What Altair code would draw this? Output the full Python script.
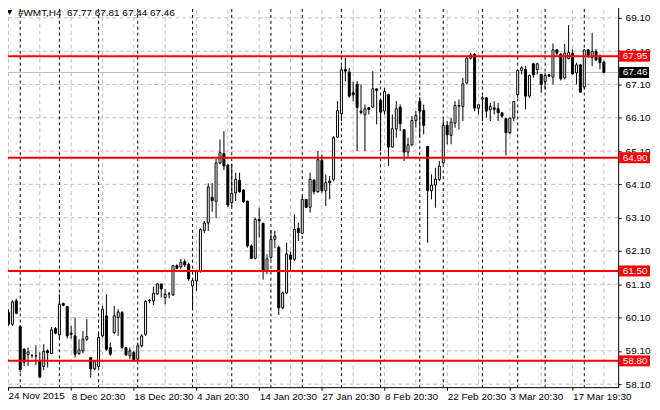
import altair as alt
import pandas as pd

# ---------------- data ----------------
opens = [
    60.25, 59.90, 60.60, 59.83, 59.15, 58.99, 58.96, 58.95, 58.80, 58.63,
    59.10, 59.02, 59.77, 59.58, 60.52, 60.43, 59.63, 59.55, 59.02, 59.10,
    59.45, 58.90, 58.56, 58.63, 59.55, 60.15, 59.20, 59.65, 60.10, 60.25,
    59.20, 58.95, 59.05, 58.85, 59.25, 59.60, 60.60, 60.60, 60.81, 61.11,
    60.70, 60.81, 60.78, 61.66, 61.62, 61.78, 61.70, 61.05, 61.20, 61.48,
    62.72, 62.94, 63.71, 63.59, 64.74, 65.02, 64.68, 63.55, 63.85, 64.22,
    63.93, 63.60, 62.25, 61.88, 63.05, 62.93, 61.49, 61.91, 62.45, 62.21,
    60.39, 60.84, 61.98, 61.85, 62.78, 62.63, 63.65, 63.41, 64.23, 63.88,
    64.82, 63.91, 64.20, 64.25, 65.52, 66.22, 67.55, 67.47, 66.85, 67.11,
    66.30, 66.19, 66.40, 66.42, 66.97, 66.62, 66.30, 66.80, 65.22, 65.77,
    66.42, 65.74, 65.07, 65.29, 66.02, 66.59, 66.32, 65.24, 63.91, 64.08,
    64.25, 64.75, 65.87, 65.57, 65.94, 66.45, 66.44, 67.15, 67.89, 68.00,
    66.39, 66.66, 66.70, 66.34, 66.40, 66.37, 66.25, 66.07, 65.65, 66.09,
    66.80, 67.52, 67.55, 66.75, 67.72, 67.55, 67.40, 67.19, 67.39, 67.32,
    68.14, 68.01, 67.30, 67.88, 68.04, 67.45, 67.69, 67.02, 68.14, 67.91,
    68.09, 67.96, 67.77,
]
highs = [
    60.35, 60.62, 60.67, 59.86, 59.18, 59.20, 59.01, 59.27, 59.05, 59.30,
    59.15, 59.82, 59.82, 60.80, 60.55, 60.45, 59.85, 60.10, 59.45, 59.70,
    60.05, 58.92, 58.80, 59.65, 60.45, 60.80, 59.35, 60.45, 60.35, 60.30,
    59.20, 59.20, 59.10, 59.35, 59.60, 60.62, 60.66, 61.03, 61.13, 61.11,
    60.95, 60.87, 61.68, 61.70, 61.86, 61.85, 61.75, 61.28, 61.50, 62.78,
    63.00, 64.13, 64.14, 64.86, 65.45, 65.70, 64.70, 64.72, 64.45, 64.45,
    63.95, 63.60, 62.30, 63.10, 63.40, 62.95, 62.00, 62.72, 62.70, 62.26,
    60.88, 62.35, 62.08, 63.20, 62.95, 63.75, 63.65, 64.45, 64.25, 65.10,
    65.00, 64.40, 64.35, 65.55, 66.60, 67.65, 67.90, 67.60, 67.18, 67.20,
    67.10, 66.50, 66.42, 67.50, 66.97, 66.65, 67.00, 66.80, 66.20, 66.60,
    66.50, 65.74, 65.50, 66.15, 66.30, 66.72, 66.50, 65.24, 64.40, 64.60,
    64.80, 66.05, 66.00, 66.10, 66.60, 66.65, 67.30, 67.95, 68.05, 68.05,
    66.50, 66.75, 66.72, 66.55, 66.60, 66.55, 66.25, 66.10, 66.10, 66.60,
    67.52, 67.65, 67.65, 67.40, 67.75, 67.75, 67.42, 67.45, 67.40, 68.33,
    68.16, 68.05, 68.32, 68.88, 68.15, 67.75, 67.72, 68.16, 68.16, 68.65,
    68.16, 68.00, 67.81,
]
lows = [
    59.85, 59.85, 60.20, 58.45, 58.64, 58.65, 58.88, 58.67, 58.28, 58.52,
    58.60, 59.00, 59.60, 59.45, 60.44, 59.47, 59.47, 58.90, 58.98, 59.03,
    59.40, 58.30, 58.52, 58.60, 59.50, 59.10, 58.95, 59.60, 59.55, 59.15,
    58.95, 58.85, 58.78, 58.80, 59.20, 59.55, 60.53, 60.48, 60.78, 60.70,
    60.50, 60.68, 60.75, 61.55, 61.55, 61.62, 61.20, 60.35, 60.90, 61.45,
    62.64, 62.70, 63.28, 63.08, 64.70, 64.53, 63.42, 63.43, 63.60, 63.85,
    63.55, 62.20, 61.85, 61.85, 62.50, 61.24, 61.40, 61.85, 62.18, 60.18,
    60.35, 60.80, 61.50, 61.80, 62.40, 62.60, 63.40, 63.25, 63.80, 63.85,
    63.85, 63.45, 63.65, 64.20, 65.50, 66.00, 67.20, 66.70, 66.60, 65.10,
    66.20, 65.10, 66.20, 66.40, 65.90, 65.10, 66.20, 64.65, 65.20, 65.50,
    65.70, 64.80, 64.90, 65.25, 65.80, 65.50, 65.60, 62.35, 63.65, 63.40,
    64.20, 64.70, 65.30, 65.30, 65.80, 65.75, 66.00, 67.10, 67.85, 66.30,
    66.20, 66.00, 66.10, 66.00, 66.20, 66.00, 66.10, 64.97, 65.60, 66.00,
    66.70, 67.40, 66.35, 66.70, 67.30, 67.40, 66.85, 66.95, 67.32, 67.10,
    67.98, 67.22, 67.25, 67.85, 67.40, 67.10, 66.85, 66.95, 67.90, 67.65,
    67.80, 67.55, 67.44,
]
closes = [
    59.90, 60.57, 60.23, 58.54, 58.76, 59.07, 58.96, 58.95, 58.31, 59.08,
    59.05, 59.73, 59.63, 60.50, 60.47, 59.55, 59.60, 59.00, 59.13, 59.45,
    59.53, 58.56, 58.78, 59.50, 60.35, 59.15, 59.00, 60.15, 60.27, 59.20,
    58.98, 59.10, 58.80, 59.25, 59.55, 60.58, 60.62, 60.83, 61.11, 60.96,
    60.80, 60.81, 61.66, 61.58, 61.76, 61.68, 61.26, 61.21, 61.48, 62.74,
    62.94, 64.02, 63.61, 64.74, 65.05, 64.65, 63.48, 63.83, 64.25, 63.88,
    63.58, 62.25, 61.88, 63.05, 63.00, 61.49, 61.86, 62.45, 62.55, 60.39,
    60.84, 62.01, 61.85, 62.75, 62.65, 63.65, 63.41, 64.25, 63.88, 64.84,
    63.91, 64.15, 64.15, 65.50, 66.32, 67.54, 67.50, 66.75, 66.79, 66.41,
    66.26, 66.37, 66.35, 66.97, 66.92, 66.27, 66.89, 65.22, 65.77, 66.37,
    65.92, 65.07, 65.29, 66.02, 66.17, 66.30, 65.87, 63.91, 64.08, 64.26,
    64.65, 65.87, 65.59, 65.97, 66.47, 66.47, 67.12, 67.89, 67.99, 66.39,
    66.49, 66.70, 66.30, 66.44, 66.35, 66.25, 66.15, 65.65, 66.09, 66.59,
    67.52, 67.60, 66.75, 67.37, 67.39, 67.72, 67.10, 67.37, 67.35, 68.14,
    68.04, 67.27, 68.04, 68.06, 67.42, 67.69, 66.87, 68.14, 67.98, 68.09,
    67.84, 67.76, 67.46,
]

symbol = "#WMT,H4"
level_prices = [67.95, 64.90, 61.50, 58.80]        # red horizontal levels
last_price = 67.46                                  # current price line
week_starts = [3, 13, 23, 33, 47, 57, 67, 75, 85, 95, 105, 111, 121, 130, 137, 147]
grid_bars = list(range(0, 153, 8))
price_ticks = [round(58.1 + k, 2) for k in range(12)]
date_ticks = [0, 16, 32, 48, 64, 80, 96, 112, 128, 144]
date_labels = ["24 Nov 2015", "8 Dec 20:30", "18 Dec 20:30", "4 Jan 20:30",
               "14 Jan 20:30", "27 Jan 20:30", "8 Feb 20:30", "22 Feb 20:30",
               "3 Mar 20:30", "17 Mar 19:30"]

n = len(opens)
assert len(highs) == n and len(lows) == n and len(closes) == n

FONT = "Liberation Sans"
W, H = 619, 386

candles = pd.DataFrame({"i": list(range(n)), "o": opens, "h": highs, "l": lows, "c": closes})
levels = pd.DataFrame({"p": level_prices})
levels["top"] = levels["p"] + 0.165
levels["bot"] = levels["p"] - 0.165
lastdf = pd.DataFrame({"p": [last_price], "top": [last_price + 0.165], "bot": [last_price - 0.165]})
hgrid = pd.DataFrame({"p": price_ticks})
vgrid = pd.DataFrame({"i": grid_bars})
seps = pd.DataFrame({"i": week_starts})
title_df = pd.DataFrame({"t": [f"{symbol}\u00a0\u00a0{opens[-1]:.2f} {highs[-1]:.2f} {lows[-1]:.2f} {closes[-1]:.2f}"]})
first_label_df = pd.DataFrame({"t": [date_labels[0]]})

xs = alt.Scale(domain=[-0.375, 154.375], nice=False, zero=False)
ys = alt.Scale(domain=[58.0103, 69.5484], nice=False, zero=False)

# first label is drawn as a separate text so that it is not cut at the left edge
label_expr = "[''," + ",".join("'" + s + "'" for s in date_labels[1:]) + "][round(datum.value/16)]"
x_axis = alt.Axis(values=date_ticks, labelExpr=label_expr, orient="bottom", title=None,
                  grid=False, domain=False, ticks=True, tickSize=3, tickColor="black",
                  labelAlign="left", labelBaseline="top", labelPadding=1,
                  labelFont=FONT, labelFontSize=10, labelColor="black",
                  labelOverlap=False, labelFlush=False, labelBound=False)
y_axis = alt.Axis(values=price_ticks, format=".2f", orient="right", title=None,
                  grid=False, domain=False, ticks=True, tickSize=3, tickColor="black",
                  labelPadding=4, labelFont=FONT, labelFontSize=10, labelColor="black",
                  labelOverlap=False, labelFlush=False, labelBound=False)


def X(field):
    return alt.X(field, type="quantitative", scale=xs, axis=x_axis)


def Y(field):
    return alt.Y(field, type="quantitative", scale=ys, axis=y_axis)


grid_h = alt.Chart(hgrid).mark_rule(color="#c0c0c0", strokeWidth=1, strokeDash=[4, 3]).encode(y=Y("p"))
grid_v = alt.Chart(vgrid).mark_rule(color="#c0c0c0", strokeWidth=1, strokeDash=[4, 3]).encode(x=X("i"))
sep_v = alt.Chart(seps).mark_rule(color="black", strokeWidth=1, strokeDash=[3, 3]).encode(x=X("i"))
last_line = alt.Chart(lastdf).mark_rule(color="#c0c0c0", strokeWidth=1).encode(y=Y("p"))

wicks = alt.Chart(candles).mark_rule(color="black", strokeWidth=1).encode(
    x=X("i"), y=Y("l"), y2="h:Q")
bodies = alt.Chart(candles).mark_bar(size=2, stroke="black", strokeWidth=1).encode(
    x=X("i"), y=Y("o"), y2="c:Q",
    fill=alt.condition("datum.c > datum.o", alt.value("white"), alt.value("black")))

red_lines = alt.Chart(levels).mark_rule(color="#ff0000", strokeWidth=2).encode(y=Y("p"))
red_boxes = alt.Chart(levels).mark_rect(color="#ff0000").encode(
    x=alt.value(620), x2=alt.value(651), y=Y("top"), y2="bot:Q")
red_text = alt.Chart(levels).mark_text(align="left", baseline="middle", color="white",
                                       font=FONT, fontSize=10).encode(
    x=alt.value(623.5), y=Y("p"), text=alt.Text("p:Q", format=".2f"))
last_box = alt.Chart(lastdf).mark_rect(color="black").encode(
    x=alt.value(620), x2=alt.value(650), y=Y("top"), y2="bot:Q")
last_text = alt.Chart(lastdf).mark_text(align="left", baseline="middle", color="white",
                                        font=FONT, fontSize=10).encode(
    x=alt.value(623.5), y=Y("p"), text=alt.Text("p:Q", format=".2f"))

tri = alt.Chart(title_df).mark_point(shape="triangle-down", filled=True, color="black",
                                     size=28, opacity=1).encode(x=alt.value(7.7), y=alt.value(9.5))
title = alt.Chart(title_df).mark_text(align="left", baseline="alphabetic", color="black",
                                      font=FONT, fontSize=10).encode(
    x=alt.value(16), y=alt.value(13.5), text="t:N")
first_label = alt.Chart(first_label_df).mark_text(align="left", baseline="top", color="black",
                                                  font=FONT, fontSize=10).encode(
    x=alt.value(6.5), y=alt.value(390), text="t:N")

chart = alt.layer(
    grid_h, grid_v, sep_v, last_line, wicks, bodies, red_lines,
    red_boxes, red_text, last_box, last_text, tri, title, first_label,
).properties(
    width=W, height=H,
    padding={"left": -6, "top": -6, "right": 34, "bottom": 13},
    autosize=alt.AutoSizeParams(type="none"),
    background="white",
).configure_view(stroke="black", strokeWidth=1)

chart.save("out.html", embed_options={"renderer": "svg", "actions": False})
